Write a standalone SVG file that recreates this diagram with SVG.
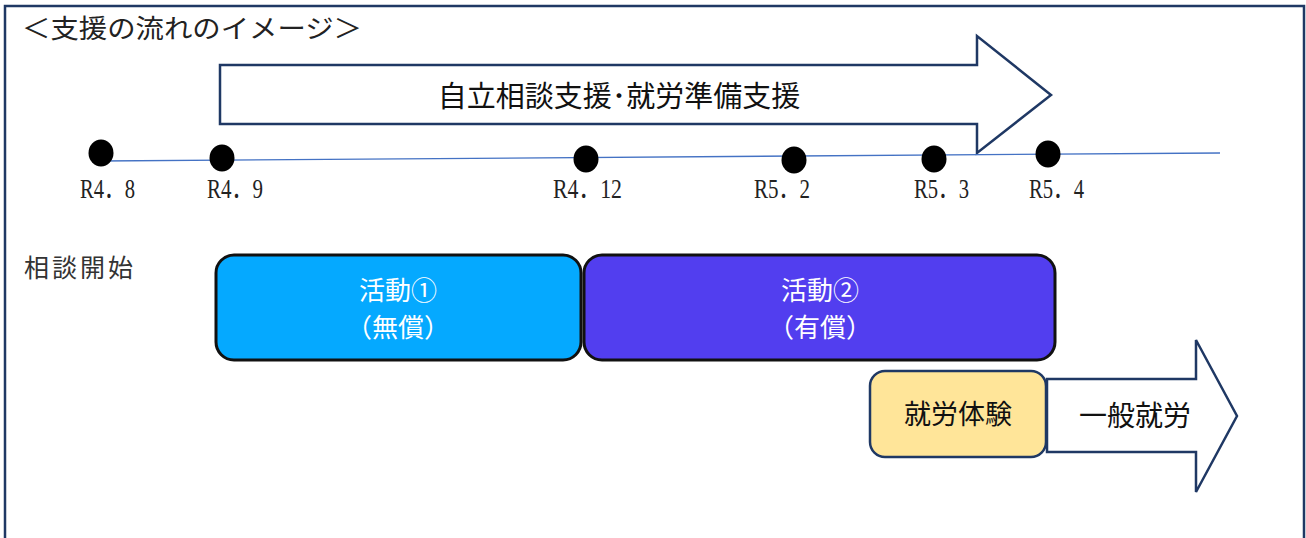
<svg xmlns="http://www.w3.org/2000/svg" width="1306" height="538" viewBox="0 0 1306 538">
<style>
.frame{fill:none;stroke:#1F3864;stroke-width:2.5}
.arrow{fill:#FFFFFF;stroke:#1F3864;stroke-width:2.5;stroke-linejoin:miter}
.dot{fill:#000000}
.tl{stroke:#4472C4;stroke-width:1.3;fill:none}
.mincho{font-family:"Liberation Serif","Noto Sans CJK JP",serif;fill:#222222}
.sans{font-family:"Noto Sans CJK JP","Noto Sans",sans-serif}
.lbl{font-size:27px}
.box{stroke:#111111;stroke-width:3}
.wt{fill:#FFFFFF;font-size:26px;text-anchor:middle}
.bk{fill:#111111;text-anchor:middle}
</style>
<rect x="0" y="0" width="1306" height="538" fill="#FFFFFF"/>
<path class="frame" d="M5,538 V6 H1304 V538"/>
<text class="mincho" x="22" y="38" font-size="26" textLength="340" lengthAdjust="spacingAndGlyphs">＜支援の流れのイメージ＞</text>

<g id="arrow-top">
<polygon class="arrow" points="220,65 977,65 977,36 1051,95 977,153 977,124 220,124"/>
<text class="sans bk" x="619" y="107" font-size="29">自立相談支援･就労準備支援</text>
</g>

<g id="connectors">
<line class="tl" x1="100" y1="161" x2="1220" y2="153"/>
</g>

<g id="timeline">
<g id="d1"><ellipse class="dot" cx="101" cy="153" rx="12.5" ry="13.5"/><text class="mincho lbl" x="80" y="198" textLength="55" lengthAdjust="spacingAndGlyphs">R4．8</text></g>
<g id="d2"><ellipse class="dot" cx="222" cy="158" rx="12.5" ry="13.5"/><text class="mincho lbl" x="207" y="198" textLength="56" lengthAdjust="spacingAndGlyphs">R4．9</text></g>
<g id="d3"><ellipse class="dot" cx="586" cy="159" rx="12.5" ry="13.5"/><text class="mincho lbl" x="553" y="198" textLength="69" lengthAdjust="spacingAndGlyphs">R4．12</text></g>
<g id="d4"><ellipse class="dot" cx="794" cy="160" rx="12.5" ry="13.5"/><text class="mincho lbl" x="754" y="198" textLength="56" lengthAdjust="spacingAndGlyphs">R5．2</text></g>
<g id="d5"><ellipse class="dot" cx="934" cy="159" rx="12.5" ry="13.5"/><text class="mincho lbl" x="914" y="198" textLength="55" lengthAdjust="spacingAndGlyphs">R5．3</text></g>
<g id="d6"><ellipse class="dot" cx="1048" cy="154" rx="12.5" ry="13.5"/><text class="mincho lbl" x="1029" y="198" textLength="55" lengthAdjust="spacingAndGlyphs">R5．4</text></g>
</g>

<g id="start"><text class="sans" x="24" y="277" font-size="25" fill="#333333" letter-spacing="3">相談開始</text></g>

<g id="act1">
<rect class="box" x="216" y="255" width="365" height="105" rx="18" fill="#05A9FF"/>
<text class="sans wt" x="398" y="300">活動①</text>
<text class="sans wt" x="398" y="337">（無償）</text>
</g>
<g id="act2">
<rect class="box" x="584" y="255" width="471" height="105" rx="18" fill="#523EEF"/>
<text class="sans wt" x="820" y="300">活動②</text>
<text class="sans wt" x="820" y="337">（有償）</text>
</g>

<g id="arrow-job">
<polygon class="arrow" points="1047,379 1196,379 1196,340 1237,416 1196,492 1196,452 1047,452"/>
<text class="sans bk" x="1135" y="426" font-size="28">一般就労</text>
</g>
<g id="trial">
<rect x="870" y="371" width="176" height="86" rx="15" fill="#FFE599" stroke="#1F3864" stroke-width="2.5"/>
<text class="sans bk" x="958" y="424" font-size="27">就労体験</text>
</g>
</svg>
